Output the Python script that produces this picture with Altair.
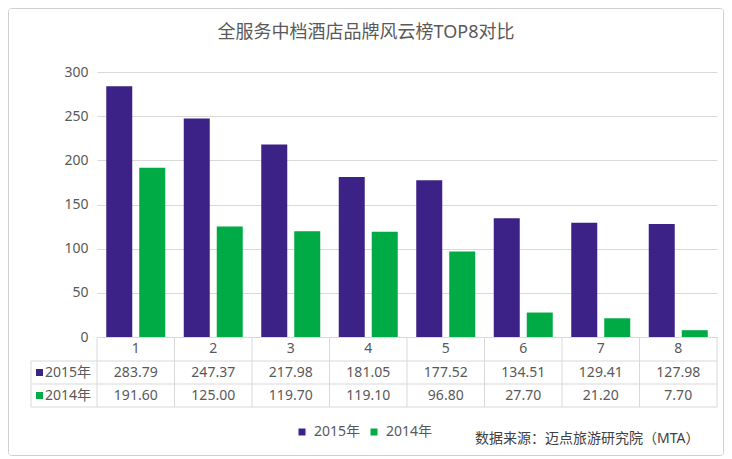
import altair as alt
import pandas as pd

FONT = "Noto Sans, Noto Sans CJK SC, sans-serif"

title_text = "全服务中档酒店品牌风云榜TOP8对比"
source_text = "数据来源：迈点旅游研究院（MTA）"
categories = ["1", "2", "3", "4", "5", "6", "7", "8"]
series = ["2015年", "2014年"]
values_2015 = [283.79, 247.37, 217.98, 181.05, 177.52, 134.51, 129.41, 127.98]
values_2014 = [191.60, 125.00, 119.70, 119.10, 96.80, 27.70, 21.20, 7.70]
colors = ["#3C2186", "#00AB45"]
y_ticks = [0, 50, 100, 150, 200, 250, 300]

rows = []
for c, a, b in zip(categories, values_2015, values_2014):
    rows.append({"cat": c, "series": series[0], "value": a, "label": f"{a:.2f}"})
    rows.append({"cat": c, "series": series[1], "value": b, "label": f"{b:.2f}"})
df = pd.DataFrame(rows)
cat_df = pd.DataFrame({"cat": categories})
ser_df = pd.DataFrame({"series": series})
one = pd.DataFrame({"k": [0]})

W, H = 620, 265
TXT = "#595959"
GRID = "#d9d9d9"

x_enc = alt.X("cat:N", scale=alt.Scale(domain=categories, paddingInner=0, paddingOuter=0), axis=None)
color_enc = alt.Color(
    "series:N",
    scale=alt.Scale(domain=series, range=colors),
    legend=alt.Legend(
        orient="none", legendX=198, legendY=353, direction="horizontal", title=None,
        symbolType="square", symbolSize=49, symbolStrokeWidth=0,
        labelFont=FONT, labelFontSize=14, labelColor=TXT, labelOffset=5, columnPadding=6,
    ),
)
y_enc = alt.Y(
    "value:Q",
    scale=alt.Scale(domain=[0, 300], nice=False),
    axis=alt.Axis(
        values=y_ticks, title=None, grid=True, gridColor=GRID, domain=False, ticks=False,
        labelPadding=9, labelFont=FONT, labelFontSize=14, labelColor=TXT,
    ),
)

bar_shift = {series[0]: -16.5, series[1]: 16.5}
bars = [
    alt.Chart(df).transform_filter(alt.datum.series == s)
    .mark_bar(size=26, xOffset=bar_shift[s])
    .encode(x=x_enc, y=y_enc, color=color_enc)
    for s in series
]

# table grid
hlines = [
    alt.Chart(one).mark_rule(color=GRID, strokeWidth=1).encode(
        x=alt.value(-66), x2=alt.value(W), y=alt.value(yy)
    )
    for yy in (289, 312, 335)
]
vline_left = alt.Chart(one).mark_rule(color=GRID).encode(
    x=alt.value(-66), y=alt.value(289), y2=alt.value(335)
)
vline_right = alt.Chart(one).mark_rule(color=GRID).encode(
    x=alt.value(W), y=alt.value(265), y2=alt.value(335)
)
vlines = alt.Chart(cat_df).mark_rule(color=GRID, xOffset=-W / 16).encode(
    x=x_enc, y=alt.value(265), y2=alt.value(335)
)

header = alt.Chart(cat_df).mark_text(font=FONT, fontSize=14, color=TXT).encode(
    x=x_enc, y=alt.value(277), text="cat:N"
)
row_y = {series[0]: 300.5, series[1]: 323.5}
row_layers = []
for s in series:
    row_layers.append(
        alt.Chart(df).transform_filter(alt.datum.series == s)
        .mark_text(font=FONT, fontSize=14, color=TXT)
        .encode(x=x_enc, y=alt.value(row_y[s]), text="label:N")
    )
    row_layers.append(
        alt.Chart(ser_df).transform_filter(alt.datum.series == s)
        .mark_square(size=49, opacity=1)
        .encode(x=alt.value(-57.5), y=alt.value(row_y[s]), color=color_enc)
    )
    row_layers.append(
        alt.Chart(ser_df).transform_filter(alt.datum.series == s)
        .mark_text(font=FONT, fontSize=14, color=TXT, align="left")
        .encode(x=alt.value(-52), y=alt.value(row_y[s]), text="series:N")
    )

title = alt.Chart(pd.DataFrame({"t": [title_text]})).mark_text(
    font=FONT, fontSize=18, color=TXT
).encode(x=alt.value(269), y=alt.value(-39), text="t:N")

source = alt.Chart(pd.DataFrame({"t": [source_text]})).mark_text(
    font=FONT, fontSize=14, color="#404040", align="left"
).encode(x=alt.value(378), y=alt.value(367), text="t:N")

frame = alt.Chart(one).mark_rect(
    fillOpacity=0, stroke="#d0d0d0", strokeWidth=1, cornerRadius=3
).encode(x=alt.value(-88.5), x2=alt.value(626.5), y=alt.value(-63.5), y2=alt.value(383.5))

chart = alt.layer(
    frame, *bars, *hlines, vline_left, vline_right, vlines, header, *row_layers, title, source
).properties(
    width=W, height=H,
    autosize=alt.AutoSizeParams(type="none"),
    padding={"left": 89, "top": 64, "right": 7, "bottom": 120},
).configure_view(stroke=None)

chart.save("out.html", embed_options={"renderer": "svg", "actions": False})
